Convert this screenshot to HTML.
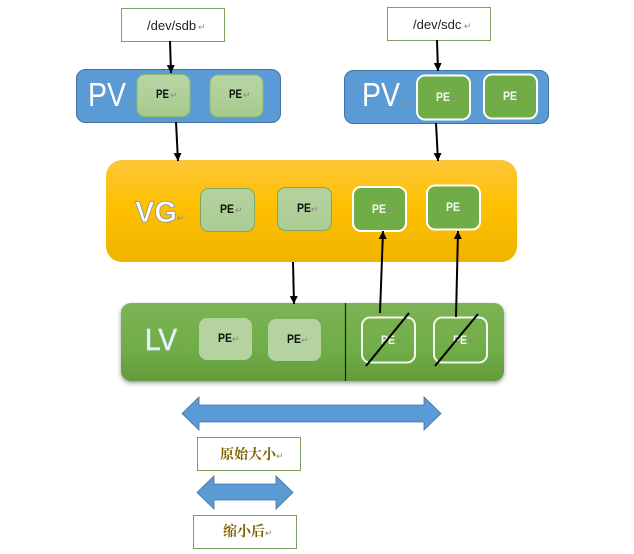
<!DOCTYPE html>
<html>
<head>
<meta charset="utf-8">
<style>
html,body{margin:0;padding:0;background:#fff;width:634px;height:554px;overflow:hidden}
svg{display:block}
text{font-family:"Liberation Sans","Noto Sans CJK SC",sans-serif}
.pe{font-size:11.5px;font-weight:bold;fill:#111}
.pw{font-size:11.5px;font-weight:bold;fill:#f4f8ee}
.r{font-size:9px;fill:#888}
.big{font-size:33px;fill:#fff}
.cn{font-family:"Liberation Serif","Noto Serif CJK SC",serif;font-size:14px;font-weight:bold;fill:#7f6000}
.dev{font-size:13px;fill:#222}
</style>
</head>
<body>
<svg width="634" height="554" viewBox="0 0 634 554" xmlns="http://www.w3.org/2000/svg">
<defs>
<linearGradient id="vg" x1="0" y1="0" x2="0" y2="1">
<stop offset="0" stop-color="#fdc63a"/><stop offset="0.45" stop-color="#ffc000"/><stop offset="1" stop-color="#eeb400"/>
</linearGradient>
<linearGradient id="lv" x1="0" y1="0" x2="0" y2="1">
<stop offset="0" stop-color="#7cb354"/><stop offset="0.6" stop-color="#70ad47"/><stop offset="1" stop-color="#629b3c"/>
</linearGradient>
<linearGradient id="lg" x1="0" y1="0" x2="0" y2="1">
<stop offset="0" stop-color="#b9d5a5"/><stop offset="1" stop-color="#a5cb8c"/>
</linearGradient>
<linearGradient id="lg2" x1="0" y1="0" x2="0" y2="1">
<stop offset="0" stop-color="#b5d2a1"/><stop offset="1" stop-color="#abcd93"/>
</linearGradient>
<filter id="sh" x="-5%" y="-15%" width="110%" height="135%"><feDropShadow dx="0" dy="2" stdDeviation="2" flood-color="#000" flood-opacity="0.4"/></filter>
<marker id="a" markerUnits="userSpaceOnUse" markerWidth="9" markerHeight="10" refX="8" refY="4" orient="auto"><path d="M0 0L8 4L0 8Z" fill="#000"/></marker>
</defs>

<!-- device boxes -->
<rect x="121.5" y="8.5" width="103" height="33" fill="#fff" stroke="#7d9f62"/>
<text class="dev" x="147" y="30">/dev/sdb</text><text class="r" x="198" y="30">↵</text>
<rect x="387.5" y="7.5" width="103" height="33" fill="#fff" stroke="#7d9f62"/>
<text class="dev" x="413" y="29">/dev/sdc</text><text class="r" x="464" y="29">↵</text>

<!-- PV 1 -->
<rect x="76.5" y="69.5" width="204" height="53" rx="9" fill="#5b9bd5" stroke="#41719c"/>
<text class="big" x="88" y="106" textLength="38" lengthAdjust="spacingAndGlyphs">PV</text><text class="r" x="127" y="106" fill-opacity=".6">↵</text>
<rect x="137" y="74.5" width="53" height="42" rx="8" fill="url(#lg)" stroke="#8dbb6d"/>
<text class="pe" x="156" y="98" textLength="13" lengthAdjust="spacingAndGlyphs">PE</text><text class="r" x="170" y="98">↵</text>
<rect x="210" y="75" width="53" height="42" rx="8" fill="url(#lg)" stroke="#8dbb6d"/>
<text class="pe" x="229" y="98" textLength="13" lengthAdjust="spacingAndGlyphs">PE</text><text class="r" x="243" y="98">↵</text>

<!-- PV 2 -->
<rect x="344.5" y="70.5" width="204" height="53" rx="9" fill="#5b9bd5" stroke="#41719c"/>
<text class="big" x="362" y="106" textLength="38" lengthAdjust="spacingAndGlyphs">PV</text><text class="r" x="401" y="106">↵</text>
<rect x="417" y="75.5" width="53" height="44" rx="8" fill="#70ad47" stroke="#fff" stroke-width="2"/>
<text class="pw" x="436" y="101" textLength="14" lengthAdjust="spacingAndGlyphs">PE</text><text class="r" x="451" y="101">↵</text>
<rect x="484" y="74.5" width="53" height="44" rx="8" fill="#70ad47" stroke="#fff" stroke-width="2"/>
<text class="pw" x="503" y="100" textLength="14" lengthAdjust="spacingAndGlyphs">PE</text><text class="r" x="518" y="100">↵</text>

<!-- VG -->
<rect x="106" y="160" width="411" height="102" rx="16" fill="url(#vg)"/>
<text x="135" y="222" font-size="30" font-weight="bold" fill="#fff" stroke="#7f93a8" stroke-width=".8" textLength="42" lengthAdjust="spacingAndGlyphs">VG</text>
<text class="r" x="177" y="221">↵</text>
<rect x="200.5" y="188.5" width="54" height="43" rx="8" fill="url(#lg2)" stroke="#7fa95a"/>
<text class="pe" x="220" y="213" textLength="14" lengthAdjust="spacingAndGlyphs">PE</text><text class="r" x="235" y="213">↵</text>
<rect x="277.5" y="187.5" width="54" height="43" rx="8" fill="url(#lg2)" stroke="#7fa95a"/>
<text class="pe" x="297" y="212" textLength="14" lengthAdjust="spacingAndGlyphs">PE</text><text class="r" x="311" y="212">↵</text>
<rect x="353" y="187" width="53" height="44" rx="8" fill="#70ad47" stroke="#fff" stroke-width="2"/>
<text class="pw" x="372" y="213" textLength="14" lengthAdjust="spacingAndGlyphs">PE</text><text class="r" x="387" y="213">↵</text>
<rect x="427" y="185.5" width="53" height="44" rx="8" fill="#70ad47" stroke="#fff" stroke-width="2"/>
<text class="pw" x="446" y="211" textLength="14" lengthAdjust="spacingAndGlyphs">PE</text><text class="r" x="461" y="211">↵</text>

<!-- LV -->
<rect x="121" y="303" width="383" height="78" rx="10" fill="url(#lv)" filter="url(#sh)"/>
<text x="145" y="350" font-size="31" fill="#eaf5fb" stroke="#cfe8f5" stroke-width=".8" textLength="32" lengthAdjust="spacingAndGlyphs">LV</text>
<text class="r" x="178" y="349">↵</text>
<rect x="199" y="318" width="53" height="42" rx="8" fill="#b4d3a0"/>
<text class="pe" x="218" y="342" textLength="14" lengthAdjust="spacingAndGlyphs">PE</text><text class="r" x="232" y="342">↵</text>
<rect x="268" y="319" width="53" height="42" rx="8" fill="#b4d3a0"/>
<text class="pe" x="287" y="343" textLength="14" lengthAdjust="spacingAndGlyphs">PE</text><text class="r" x="301" y="343">↵</text>
<line x1="345.5" y1="303" x2="345.5" y2="381" stroke="#10260a" stroke-width="1.2"/>
<rect x="362" y="317.5" width="53" height="45" rx="8" fill="none" stroke="#f2f8ec" stroke-width="2"/>
<text class="pw" x="381" y="344" textLength="14" lengthAdjust="spacingAndGlyphs">PE</text><text class="r" x="396" y="344">↵</text>
<rect x="434" y="317.5" width="53" height="45" rx="8" fill="none" stroke="#f2f8ec" stroke-width="2"/>
<text class="pw" x="453" y="344" textLength="14" lengthAdjust="spacingAndGlyphs">PE</text><text class="r" x="468" y="344">↵</text>
<g stroke="#000" stroke-width="2" fill="none">
<line x1="366" y1="366" x2="409" y2="313"/>
<line x1="435" y1="366" x2="478" y2="314"/>
</g>

<!-- arrows -->
<g stroke="#000" stroke-width="2" fill="none" marker-end="url(#a)">
<line x1="170" y1="41" x2="171" y2="73"/>
<line x1="176" y1="122" x2="178" y2="161"/>
<line x1="437" y1="40" x2="438" y2="71"/>
<line x1="436" y1="123" x2="438" y2="161"/>
<line x1="293" y1="262" x2="294" y2="304"/>
<line x1="380" y1="313" x2="383" y2="231"/>
<line x1="456" y1="317" x2="458" y2="231"/>
</g>

<!-- size arrows -->
<path d="M182 413.5L199 397V405H424V397L441 413.5L424 430V422H199V430Z" fill="#5b9bd5" stroke="#41719c" stroke-width=".8"/>
<rect x="197.5" y="437.5" width="103" height="33" fill="#fff" stroke="#7d9f62"/>
<text class="cn" x="220" y="459">原始大小</text><text class="r" x="276" y="459">↵</text>
<path d="M197 492.5L214 476V484H276V476L293 492.5L276 509V500H214V509Z" fill="#5b9bd5" stroke="#41719c" stroke-width=".8"/>
<rect x="193.5" y="515.5" width="103" height="33" fill="#fff" stroke="#7d9f62"/>
<text class="cn" x="223" y="536">缩小后</text><text class="r" x="265" y="536">↵</text>
</svg>
</body>
</html>
